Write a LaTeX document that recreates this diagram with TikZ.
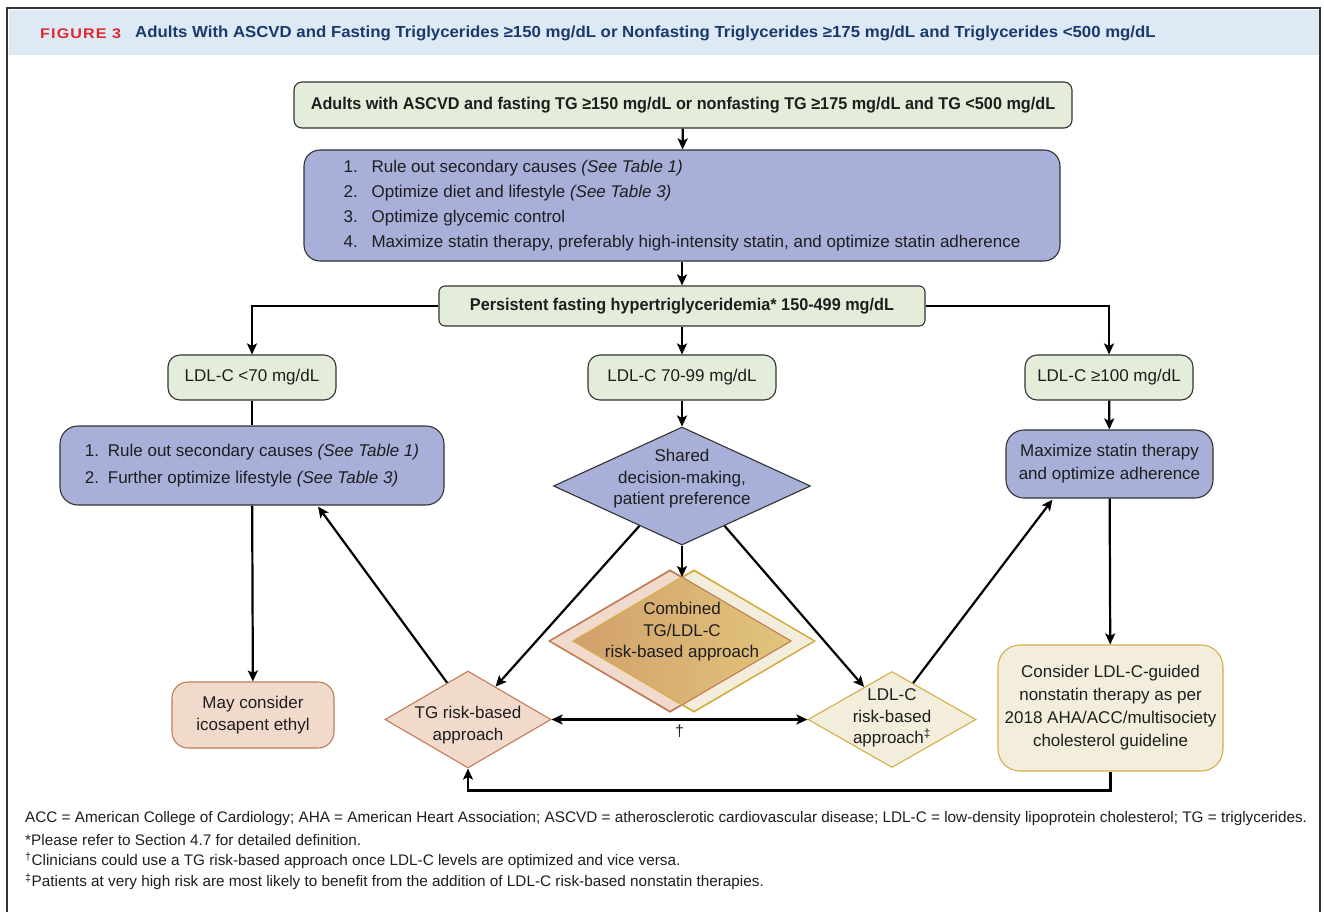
\documentclass[tikz,border=0pt]{standalone}
\usepackage{fontspec}
\setmainfont{Liberation Sans}[BoldFeatures={FakeStretch=0.955}]
\newfontfamily\titlefont{Liberation Sans}[BoldFeatures={FakeStretch=1.05}]
\newfontfamily\figfont{Liberation Sans}[BoldFeatures={FakeStretch=1.15,LetterSpace=8}]
\usetikzlibrary{shapes.geometric,arrows.meta,calc}
\definecolor{headerblue}{HTML}{DDE9F5}
\definecolor{figred}{HTML}{E0262E}
\definecolor{navy}{HTML}{1B3A6B}
\definecolor{gfill}{HTML}{E3EDDA}
\definecolor{bfill}{HTML}{A8AFD8}
\definecolor{pfill}{HTML}{F1DACB}
\definecolor{pdraw}{HTML}{C27B55}
\definecolor{yfill}{HTML}{F3EEDC}
\definecolor{ydraw}{HTML}{D5AE48}
\definecolor{gradL}{HTML}{D2A06C}
\definecolor{gradR}{HTML}{E3C97D}
\definecolor{edge}{HTML}{333333}
\definecolor{txt}{HTML}{1E1E1E}
\begin{document}
\begin{tikzpicture}[x=1pt,y=-1pt,
  every node/.style={text=txt},
  bx/.style={draw=edge, line width=1.1pt, align=center, inner sep=0pt, font=\fontsize{17}{22}\selectfont},
  gbox/.style={bx, fill=gfill},
  bbox/.style={bx, fill=bfill},
  lbl/.style={align=center, inner sep=0pt, font=\fontsize{17}{21.5}\selectfont},
  conn/.style={line width=2.2pt, black},
  arr/.style={conn, -{Stealth[length=11pt,width=10pt,inset=2.5pt]}},
  darr/.style={conn, {Stealth[length=11pt,width=10pt,inset=2.5pt]}-{Stealth[length=11pt,width=10pt,inset=2.5pt]}},
  dia/.style={diamond, inner sep=0pt, line width=1.1pt}
]
\useasboundingbox (0,0) rectangle (1324,911);
\fill[white] (0,0) rectangle (1324,911);
% frame and header
\fill[headerblue] (8.5,10) rectangle (1318.5,55);
\draw[line width=1.5pt, edge] (7,915) -- (7,8) -- (1320,8) -- (1320,915);
\node[anchor=west, inner sep=0pt, text=figred, font=\figfont\bfseries\fontsize{14}{16}\selectfont] (fig) at (40,33.5) {FIGURE 3};
\node[anchor=west, inner sep=0pt, text=navy, font=\titlefont\bfseries\fontsize{16}{18}\selectfont] (title) at (135,33.5) {Adults With ASCVD and Fasting Triglycerides ≥150 mg/dL or Nonfasting Triglycerides ≥175 mg/dL and Triglycerides <500 mg/dL};

% boxes
\node[gbox, rounded corners=8pt, minimum width=778pt, minimum height=46pt, font=\bfseries\fontsize{17}{22}\selectfont] (top) at (683,105) {Adults with ASCVD and fasting TG ≥150 mg/dL or nonfasting TG ≥175 mg/dL and TG <500 mg/dL};
\node[bbox, rounded corners=16pt, minimum width=756pt, minimum height=111pt, align=left, font=\fontsize{17}{25}\selectfont] (list1) at (682,205.5) {%
\makebox[28pt][l]{1.}Rule out secondary causes \textit{(See Table 1)}\\
\makebox[28pt][l]{2.}Optimize diet and lifestyle \textit{(See Table 3)}\\
\makebox[28pt][l]{3.}Optimize glycemic control\\
\makebox[28pt][l]{4.}Maximize statin therapy, preferably high-intensity statin, and optimize statin adherence};
\node[gbox, rounded corners=6pt, minimum width=486pt, minimum height=40pt, font=\bfseries\fontsize{17}{22}\selectfont] (persist) at (682,306) {Persistent fasting hypertriglyceridemia* 150-499 mg/dL};
\node[gbox, rounded corners=12pt, minimum width=168pt, minimum height=45pt] (ldl70) at (252,377.5) {LDL-C <70 mg/dL};
\node[gbox, rounded corners=12pt, minimum width=188pt, minimum height=45pt] (ldlmid) at (682,377.5) {LDL-C 70-99 mg/dL};
\node[gbox, rounded corners=12pt, minimum width=168pt, minimum height=45pt] (ldl100) at (1109,377.5) {LDL-C ≥100 mg/dL};
\node[bbox, rounded corners=18pt, minimum width=384pt, minimum height=79pt, align=left, font=\fontsize{17}{27}\selectfont] (left) at (252,465.5) {%
\makebox[23pt][l]{1.}Rule out secondary causes \textit{(See Table 1)}\\
\makebox[23pt][l]{2.}Further optimize lifestyle \textit{(See Table 3)}};
\node[bbox, rounded corners=18pt, minimum width=207pt, minimum height=68pt, font=\fontsize{17}{23}\selectfont] (maxst) at (1109.5,464) {Maximize statin therapy\\and optimize adherence};
\node[bx, draw=pdraw, fill=pfill, rounded corners=16pt, minimum width=162pt, minimum height=66pt] (may) at (253,715) {May consider\\icosapent ethyl};
\node[bx, draw=ydraw, fill=yfill, rounded corners=22pt, minimum width=225pt, minimum height=126pt, font=\fontsize{17}{23}\selectfont] (consider) at (1110.5,708) {Consider LDL-C-guided\\nonstatin therapy as per\\2018 AHA/ACC/multisociety\\cholesterol guideline};

% diamonds
\node[dia, draw=edge, fill=bfill, minimum width=257pt, minimum height=118pt] (shared) at (682,486) {};
\node[lbl] (sharedT) at (682,479) {Shared\\decision-making,\\patient preference};
\node[dia, draw=pdraw, fill=pfill, minimum width=241pt, minimum height=141pt] (combP) at (670,641) {};
\node[dia, draw=ydraw, fill=yfill, minimum width=241pt, minimum height=141pt] (combY) at (694,641) {};
\begin{scope}
\clip (combP.north) -- (combP.east) -- (combP.south) -- (combP.west) -- cycle;
\shade[left color=gradL, right color=gradR] (combY.north) -- (combY.east) -- (combY.south) -- (combY.west) -- cycle;
\end{scope}
\draw[pdraw, line width=1.1pt] (combP.north) -- (combP.east) -- (combP.south) -- (combP.west) -- cycle;
\draw[ydraw, line width=1.1pt] (combY.north) -- (combY.east) -- (combY.south) -- (combY.west) -- cycle;
\node[lbl] (combT) at (682,632) {Combined\\TG/LDL-C\\risk-based approach};
\coordinate (combtop) at (682,577);
\node[dia, draw=pdraw, fill=pfill, minimum width=166pt, minimum height=97pt] (tg) at (468,719.5) {};
\node[lbl] (tgT) at (468,725) {TG risk-based\\approach};
\node[dia, draw=ydraw, fill=yfill, minimum width=168pt, minimum height=96pt] (ldlr) at (892,719.5) {};
\node[lbl] (ldlrT) at (892,718) {LDL-C\\risk-based\\approach\textsuperscript{‡}};

% connectors
\draw[arr] (top) -- (list1);
\draw[arr] (list1) -- (persist);
\draw[arr] (persist.west) -| (ldl70.north);
\draw[arr] (persist.east) -| (ldl100.north);
\draw[arr] (persist) -- (ldlmid);
\draw[conn] (ldl70) -- (left);
\draw[arr] (ldlmid) -- (shared.north);
\draw[arr] (shared.south) -- (combtop);
\draw[arr] ($(shared.west)!0.67!(shared.south)$) -- ($(tg.north)!0.33!(tg.east)$);
\draw[arr] ($(shared.east)!0.67!(shared.south)$) -- ($(ldlr.north)!0.33!(ldlr.west)$);
\draw[arr] ($(tg.north)!0.25!(tg.west)$) -- ($(left.south)+(66,1)$);
\draw[arr] ($(ldlr.north)!0.25!(ldlr.east)$) -- ($(maxst.south)+(-57,1)$);
\draw[darr] (tg.east) -- (ldlr.west) node[midway, below=4pt, inner sep=0pt, font=\fontsize{16}{18}\selectfont] (dag) {†};
\draw[arr] (left) -- (may);
\draw[arr] (ldl100) -- (maxst);
\draw[arr] (maxst) -- (consider);
\draw[arr] (consider.south) -- ++(0,19) -| (tg.south);

% footnotes
\begin{scope}[every node/.style={anchor=west, inner sep=0pt, text=txt, font=\fontsize{15.3}{18}\selectfont}]
\node (fn1) at (25,819) {ACC = American College of Cardiology; AHA = American Heart Association; ASCVD = atherosclerotic cardiovascular disease; LDL-C = low-density lipoprotein cholesterol; TG = triglycerides.};
\node (fn2) at (25,840) {*Please refer to Section 4.7 for detailed definition.};
\node (fn3) at (25,861) {\textsuperscript{†}Clinicians could use a TG risk-based approach once LDL-C levels are optimized and vice versa.};
\node (fn4) at (25,882) {\textsuperscript{‡}Patients at very high risk are most likely to benefit from the addition of LDL-C risk-based nonstatin therapies.};
\end{scope}
\end{tikzpicture}
\end{document}
